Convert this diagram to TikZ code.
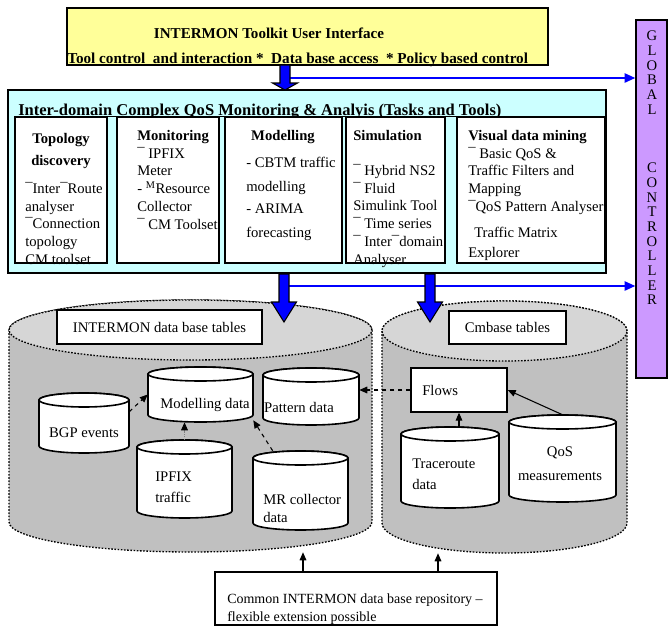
\documentclass[tikz,border=0pt]{standalone}
\usepackage{fontspec}
\setmainfont{Liberation Serif}
\usepackage{xcolor}
\usepackage{tikz}
\usetikzlibrary{arrows.meta,fit}
\definecolor{im_yellow}{RGB}{255,255,153}
\definecolor{im_cyan}{RGB}{204,255,255}
\definecolor{im_purple}{RGB}{204,153,255}
\definecolor{im_gray}{RGB}{192,192,192}
\definecolor{im_lightgray}{RGB}{214,214,214}
\definecolor{im_blue}{RGB}{0,0,255}

% data base can: body style, name, centre x, top y, bottom y, x radius, y radius, top style
\newcommand{\dbcan}[8]{%
  \path[#1] (#3-#6,#4) -- (#3-#6,#5)
    arc[start angle=180,end angle=360,x radius=#6*0.75pt,y radius=#7*0.75pt]
    -- (#3+#6,#4)
    arc[start angle=0,end angle=180,x radius=#6*0.75pt,y radius=#7*0.75pt] -- cycle;
  \path[#1,#8] (#3,#4) ellipse[x radius=#6*0.75pt,y radius=#7*0.75pt];
  \node[fit={(#3-#6,#4-#7) (#3+#6,#5+#7)}] (#2) {};
}
% fat blue arrow pointing down: x, shaft top, head start, tip
\newcommand{\fatdown}[4]{%
  \path[fatarrow] (#1-5,#2) -- (#1-5,#3) -- (#1-12.5,#3) -- (#1,#4)
    -- (#1+12.5,#3) -- (#1+5,#3) -- (#1+5,#2) -- cycle;
}

\begin{document}
\begin{tikzpicture}[x=0.75pt, y=-0.75pt,
    font=\fontsize{11}{13.3}\selectfont,
    every node/.style={inner sep=0pt},
    box/.style={draw=black, line width=1.1pt},
    uibox/.style={box, fill=im_yellow},
    toolbox/.style={box, fill=im_cyan},
    taskbox/.style={box, fill=white},
    ctrlbox/.style={box, fill=im_purple},
    lblbox/.style={draw=black, line width=1pt, fill=white},
    txt/.style={align=left, anchor=north west},
    hd/.style={font=\fontsize{11}{13.3}\selectfont\bfseries},
    bigcan/.style={fill=im_gray, draw=black, line width=1pt, dash pattern=on 1.2pt off 1.2pt},
    bigtop/.style={fill=im_lightgray},
    smallcan/.style={fill=white, draw=black, line width=1.2pt},
    smalltop/.style={},
    fatarrow/.style={fill=im_blue, draw=black, line width=0.8pt},
    ctrlline/.style={draw=im_blue, line width=1.2pt, -{Triangle[length=8pt,width=7pt]}},
    feed/.style={dashed, line width=0.8pt, -{Triangle[length=6pt,width=5pt]}},
    hint/.style={densely dotted, draw=gray, line width=0.8pt, -{Triangle[length=6pt,width=5pt,color=black]}},
    link/.style={line width=0.8pt, -{Triangle[length=6pt,width=5pt]}}]
  \useasboundingbox (0,0) rectangle (668,628);

  % user interface
  \node[uibox, fit={(67,8) (548,65)}] (ui) {};
  \node[hd, anchor=base, font=\fontsize{11.3}{13.3}\selectfont\bfseries] (uititle) at (269,38)
    {INTERMON Toolkit User Interface};
  \node[hd, anchor=base west, font=\fontsize{11.4}{13.3}\selectfont\bfseries] (uisub) at (67,63)
    {Tool control\ \ and interaction *\ \ Data base access\ \ * Policy based control};

  % tasks and tools
  \node[toolbox, fit={(8,90) (606,273)}] (tools) {};
  \node[hd, anchor=base west, font=\fontsize{12.4}{14}\selectfont\bfseries] (tooltitle) at (18,115)
    {Inter-domain Complex QoS Monitoring \& Analyis (Tasks and Tools)};
  \node[taskbox, fit={(15,117) (107,263)}] (topo) {};
  \node[taskbox, fit={(117,117) (219,263)}] (moni) {};
  \node[taskbox, fit={(225,117) (342,263)}] (modl) {};
  \node[taskbox, fit={(346,117) (445,263)}] (simu) {};
  \node[taskbox, fit={(457,117) (605,263)}] (vdm) {};
  \draw[line width=1pt] (15,116.5) -- (606,116.5);

  \node[hd, align=center, anchor=north] (topohd) at (61,133) {Topology\\[3pt]discovery};
  \node[txt] (topobody) at (25,182)
    {¯Inter¯Route\\analyser\\¯Connection\\topology\\CM toolset};
  \node[txt] (monibody) at (137,130)
    {\textbf{Monitoring}\\¯ IPFIX\\Meter\\- \textsuperscript{M}Resource\\Collector\\¯ CM Toolset};
  \node[hd, anchor=north] (modlhd) at (283,130) {Modelling};
  \node[txt] (modlbody) at (246,157)
    {- CBTM traffic\\[4.7pt]modelling\\[3.2pt]- ARIMA\\[4.7pt]forecasting};
  \node[txt] (simubody) at (353,130)
    {\textbf{Simulation}\\[13pt]¯ Hybrid NS2\\¯ Fluid\\Simulink Tool\\¯ Time series\\¯ Inter¯domain\\Analyser};
  \node[txt] (vdmbody) at (468,130)
    {\textbf{Visual data mining}\\¯ Basic QoS \&\\Traffic Filters and\\Mapping\\¯QoS Pattern Analyser\\[6pt]\hspace{4.5pt}Traffic Matrix\\[2pt]Explorer};

  % global controller
  \node[ctrlbox, fit={(636,20) (667,378)}] (ctrl) {};
  \node[align=center, anchor=north, font=\fontsize{11}{11}\selectfont] (ctrltxt) at (652,31)
    {G\\L\\O\\B\\A\\L\\[33pt]C\\O\\N\\T\\R\\O\\L\\L\\E\\R};

  % data bases
  \dbcan{bigcan}{canL}{190.5}{330}{522}{181.5}{30}{bigtop}
  \dbcan{bigcan}{canR}{504.5}{331}{523}{122.5}{30}{bigtop}
  \node[lblbox, fit={(57,310) (262,344)}] (dbtab) {};
  \node (dbtabtxt) at (dbtab.center) {INTERMON data base tables};
  \node[lblbox, fit={(449,311) (566,344)}] (cmtab) {};
  \node (cmtabtxt) at (cmtab.center) {Cmbase tables};

  \dbcan{smallcan}{bgp}{84}{400}{446}{45}{7}{smalltop}
  \dbcan{smallcan}{model}{200.5}{374}{415}{52.5}{7}{smalltop}
  \dbcan{smallcan}{pattern}{311}{375}{418}{48}{7}{smalltop}
  \dbcan{smallcan}{ipfix}{184.5}{447}{511}{47.5}{7}{smalltop}
  \dbcan{smallcan}{mrcoll}{300.5}{458}{523}{47.5}{7}{smalltop}
  \dbcan{smallcan}{trace}{450}{434}{501}{49}{7}{smalltop}
  \dbcan{smallcan}{qos}{562.5}{422}{495}{53.5}{7}{smalltop}
  \node (bgptxt) at (84,433) {BGP events};
  \node (modeltxt) at (205,405) {Modelling data};
  \node (patterntxt) at (299,407) {Pattern data};
  \node[txt] (ipfixtxt) at (155,472) {IPFIX\\[2pt]traffic};
  \node[txt] (mrtxt) at (263,494) {MR collector\\data};
  \node[txt] (tracetxt) at (412,459) {Traceroute\\[2pt]data};
  \node[align=center, anchor=north] (qostxt) at (560,447) {QoS\\[4pt]measurements};

  \node[lblbox, fit={(411,368) (507,412)}] (flows) {};
  \node[anchor=west] (flowstxt) at (422,390) {Flows};

  % repository note
  \node[lblbox, fit={(215,572) (497,625)}] (repo) {};
  \node[txt, font=\fontsize{10.5}{12.8}\selectfont] (repotxt) at (227,594)
    {Common INTERMON data base repository --\\flexible extension possible};
  \coordinate (repoL) at (303,572);
  \coordinate (repoR) at (438,572);

  % links to the controller
  \coordinate (uplink) at (290,78);
  \coordinate (lowlink) at (289,286);
  \draw[ctrlline] (uplink) -- (uplink -| ctrl.west);
  \draw[ctrlline] (lowlink) -- (lowlink -| ctrl.west);
  \fatdown{285}{65}{83}{90}
  \fatdown{284}{274}{302}{322}
  \fatdown{430}{274}{302}{322}

  % data flows
  \draw[feed] (bgp.14) -- (model.west);
  \draw[hint] (ipfix.north) -- (ipfix.north |- model.south);
  \draw[feed] (mrcoll.125) -- (model.-26);
  \draw[feed] (flows.west) -- (flows.west -| pattern.east);
  \draw[link] (flows.south |- trace.north) -- (flows.south);
  \draw[link] (qos.north) -- (flows.east);
  \draw[link] (repoL) -- (repoL |- canL.south);
  \draw[link] (repoR) -- (repoR |- canR.south);
\end{tikzpicture}
\end{document}
